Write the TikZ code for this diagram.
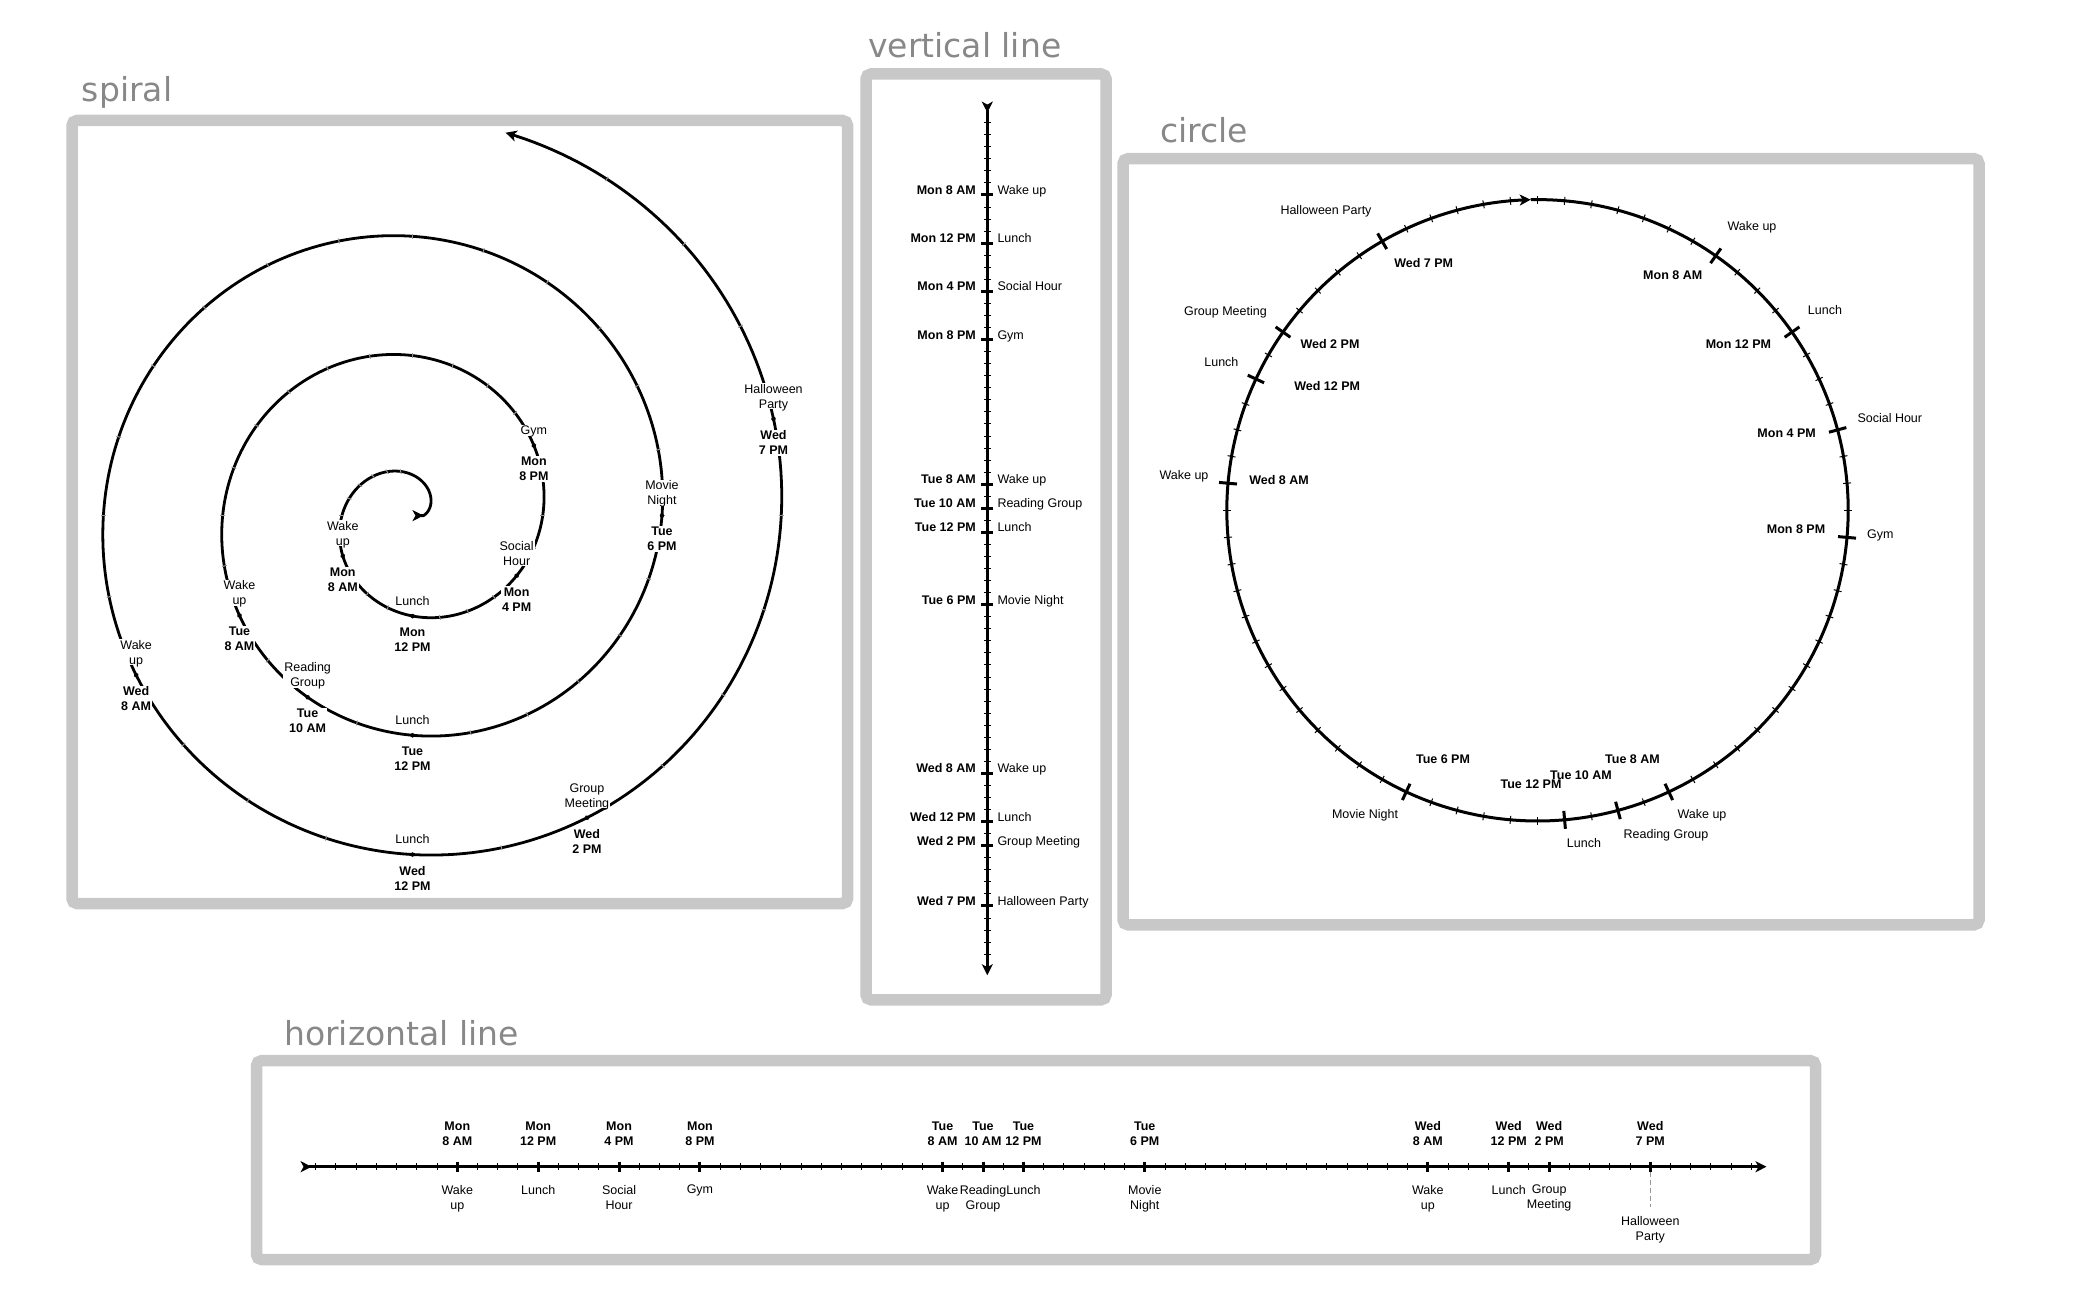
\documentclass[tikz,border=0pt]{standalone}
\usepackage{fontspec}
\setmainfont{Liberation Sans}
\newfontfamily\ttlfont{DejaVu Sans}
\usetikzlibrary{arrows.meta}
\definecolor{boxgray}{RGB}{200,200,200}
\definecolor{ttlgray}{RGB}{136,136,136}
\definecolor{tickgray}{RGB}{150,150,150}
\newcommand\lblsz{\fontsize{12.5}{15}\selectfont}
\tikzset{
 panel/.style={draw=boxgray, line width=11.5pt, rounded corners=5pt},
 ttl/.style={font=\ttlfont\fontsize{33}{40}\selectfont, text=ttlgray, inner sep=0pt},
 lbl/.style={font=\lblsz, inner sep=0pt, align=center},
 tlbl/.style={font=\bfseries\lblsz, inner sep=0pt, align=center},
 spname/.style={lbl, fill=white, inner sep=1pt, anchor=south, text depth=0pt},
 sptime/.style={tlbl, fill=white, inner sep=1pt, anchor=north},
 axisline/.style={line width=3.5pt},
 spiralline/.style={line width=2.8pt},
 circline/.style={line width=3pt},
 minortick/.style={line width=1pt},
 majortick/.style={line width=3pt},
 sptick/.style={line width=1pt, draw=tickgray},
 dashgray/.style={draw=tickgray, line width=1.2pt, dash pattern=on 5pt off 3pt},
}
\begin{document}
\begin{tikzpicture}[x=1pt,y=-1pt,>={Stealth[length=11pt,width=11pt,inset=3pt]}]
\useasboundingbox (0,0) rectangle (2100,1300);
% panels
\draw[panel] (72,120.5) rectangle (847.5,903.5);
\draw[panel] (866,74) rectangle (1106,999.8);
\draw[panel] (1123,158.7) rectangle (1979,924.8);
\draw[panel] (256.5,1060.7) rectangle (1815.5,1259.5);
% titles
\node[ttl, anchor=base west] (tsp) at (81.7,102) {spiral};
\node[ttl, anchor=base west] (tvl) at (868,58) {vertical line};
\node[ttl, anchor=base west] (tci) at (1160,143) {circle};
\node[ttl, anchor=base west] (thl) at (284,1045) {horizontal line};

% ---------------- spiral ----------------
\coordinate (sp0) at (412.5,515.6);
\draw[spiralline, >->] (sp0) -- plot[domain=-6:71.1, samples=800, variable=\t]
  ({412.5+4.97*(\t+8.2)*cos(90+15*\t)},{515.6-4.97*(\t+8.2)*sin(90+15*\t)});
\foreach \t in {1,...,70}{
  \pgfmathsetmacro\ang{90+15*\t}
  \pgfmathsetmacro\rr{4.97*(\t+8.2)}
  \draw[sptick] ({412.5+(\rr-2.5)*cos(\ang)},{515.6-(\rr-2.5)*sin(\ang)}) -- ({412.5+(\rr+2.5)*cos(\ang)},{515.6-(\rr+2.5)*sin(\ang)});
}
\foreach \t/\nm/\tm [count=\i] in {8/{Wake\\up}/{Mon\\8 AM},12/{Lunch}/{Mon\\12 PM},16/{Social\\Hour}/{Mon\\4 PM},20/{Gym}/{Mon\\8 PM},32/{Wake\\up}/{Tue\\8 AM},34/{Reading\\Group}/{Tue\\10 AM},36/{Lunch}/{Tue\\12 PM},42/{Movie\\Night}/{Tue\\6 PM},56/{Wake\\up}/{Wed\\8 AM},60/{Lunch}/{Wed\\12 PM},62/{Group\\Meeting}/{Wed\\2 PM},67/{Halloween\\Party}/{Wed\\7 PM}}{
  \pgfmathsetmacro\ang{90+15*\t}
  \pgfmathsetmacro\rr{4.97*(\t+8.2)}
  \coordinate (s\i) at ({412.5+\rr*cos(\ang)},{515.6-\rr*sin(\ang)});
  \node[spname] (sn\i) at ([yshift=9.5pt]s\i) {\nm};
  \node[sptime] (st\i) at ([yshift=-10.5pt]s\i) {\tm};
  \fill (s\i) circle (2.2);
}

% ---------------- vertical line ----------------
\coordinate (vA) at (987.3,101.6);
\coordinate (vB) at (987.3,975.2);
\draw[axisline, >->] (vA) -- (vB);
\foreach \t in {2,...,72}{
  \draw[minortick] (984.1,{195+12.05*(\t-8)}) -- (990.5,{195+12.05*(\t-8)});
}
\foreach \t/\nm/\tm [count=\i] in {8/{Wake up}/{Mon 8 AM},12/{Lunch}/{Mon 12 PM},16/{Social Hour}/{Mon 4 PM},20/{Gym}/{Mon 8 PM},32/{Wake up}/{Tue 8 AM},34/{Reading Group}/{Tue 10 AM},36/{Lunch}/{Tue 12 PM},42/{Movie Night}/{Tue 6 PM},56/{Wake up}/{Wed 8 AM},60/{Lunch}/{Wed 12 PM},62/{Group Meeting}/{Wed 2 PM},67/{Halloween Party}/{Wed 7 PM}}{
  \coordinate (v\i) at (987.3,{195+12.05*(\t-8)});
  \draw[majortick] ([xshift=-6pt]v\i) -- ([xshift=6pt]v\i);
  \node[tlbl, anchor=base east] (vt\i) at ([xshift=-11.3pt,yshift=0.5pt]v\i) {\tm};
  \node[lbl, anchor=base west] (vn\i) at ([xshift=10pt,yshift=0.5pt]v\i) {\nm};
}

% ---------------- circle ----------------
\draw[circline, ->] plot[domain=0.75:72.75, samples=361, variable=\t]
  ({1537.5+310.7*sin(5*(\t-1))},{510.3-310.7*cos(5*(\t-1))});
\foreach \t in {1,...,72}{
  \pgfmathsetmacro\ph{5*(\t-1)}
  \draw[minortick] ({1537.5+306.7*sin(\ph)},{510.3-306.7*cos(\ph)}) -- ({1537.5+314.7*sin(\ph)},{510.3-314.7*cos(\ph)});
}
\foreach \t/\nm/\tm/\nx/\ny/\tx/\ty [count=\i] in {
 8/{Wake up}/{Mon 8 AM}/1752/226/1672.7/275,
 12/{Lunch}/{Mon 12 PM}/1825/310/1738.4/344.2,
 16/{Social Hour}/{Mon 4 PM}/1889.8/417.9/1786.6/432.6,
 20/{Gym}/{Mon 8 PM}/1880.4/534.4/1796/529,
 32/{Wake up}/{Tue 8 AM}/1702/813.5/1632.5/759,
 34/{Reading Group}/{Tue 10 AM}/1666/834/1581/775,
 36/{Lunch}/{Tue 12 PM}/1584/843/1531/784.3,
 42/{Movie Night}/{Tue 6 PM}/1365/813.5/1443/759,
 56/{Wake up}/{Wed 8 AM}/1184/475.4/1279/479.5,
 60/{Lunch}/{Wed 12 PM}/1221.4/361.6/1327.2/385.7,
 62/{Group Meeting}/{Wed 2 PM}/1225.4/310.7/1330/344.2,
 67/{Halloween Party}/{Wed 7 PM}/1326/210.3/1423.7/262.5}{
  \pgfmathsetmacro\ph{5*(\t-1)}
  \coordinate (c\i) at ({1537.5+310.7*sin(\ph)},{510.3-310.7*cos(\ph)});
  \draw[majortick] ({1537.5+301.7*sin(\ph)},{510.3-301.7*cos(\ph)}) -- ({1537.5+319.7*sin(\ph)},{510.3-319.7*cos(\ph)});
  \node[lbl, anchor=base] (cn\i) at ({\nx},{\ny+4.5}) {\nm};
  \node[tlbl, anchor=base] (ct\i) at ({\tx},{\ty+4.5}) {\tm};
}

% ---------------- horizontal line ----------------
\coordinate (hA) at (300.6,1166.7);
\coordinate (hB) at (1766.5,1166.7);
\draw[axisline, >->] (hA) -- (hB);
\foreach \t in {1,...,72}{
  \draw[minortick] ({457.3+20.22*(\t-8)},1163) -- ({457.3+20.22*(\t-8)},1170.4);
}
\foreach \t/\nm/\tm [count=\i] in {8/{Wake\\up}/{Mon\\8 AM},12/{Lunch}/{Mon\\12 PM},16/{Social\\Hour}/{Mon\\4 PM},20/{Gym}/{Mon\\8 PM},32/{Wake\\up}/{Tue\\8 AM},34/{Reading\\Group}/{Tue\\10 AM},36/{Lunch}/{Tue\\12 PM},42/{Movie\\Night}/{Tue\\6 PM},56/{Wake\\up}/{Wed\\8 AM},60/{Lunch}/{Wed\\12 PM},62/{Group\\Meeting}/{Wed\\2 PM}}{
  \coordinate (h\i) at ({457.3+20.22*(\t-8)},1166.7);
  \draw[majortick] ([yshift=5pt]h\i) -- ([yshift=-5pt]h\i);
  \node[tlbl, anchor=south, text depth=0pt] (ht\i) at ([yshift=20.7pt]h\i) {\tm};
  \node[lbl, anchor=north] (hn\i) at ([yshift=-18.3pt]h\i) {\nm};
}
\coordinate (h12) at (1650.3,1166.7);
\draw[majortick] ([yshift=5pt]h12) -- ([yshift=-5pt]h12);
\node[tlbl, anchor=south, text depth=0pt] (ht12) at ([yshift=20.7pt]h12) {Wed\\7 PM};
\node[lbl, anchor=north] (hn12) at ([yshift=-49.3pt]h12) {Halloween\\Party};
\draw[dashgray] ([yshift=-5.5pt]h12) -- ([yshift=9pt]hn12.north);
\end{tikzpicture}
\end{document}
